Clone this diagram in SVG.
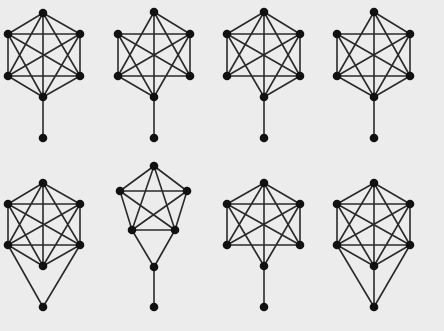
<svg xmlns="http://www.w3.org/2000/svg" width="444" height="331" viewBox="0 0 444 331">
<style>
.e{fill:none;stroke:#2a2a2a;stroke-width:1.6;stroke-linecap:round}
.n{fill:#111}
</style>
<rect width="444" height="331" fill="#ececec"/>
<g id="connectors">
<path id="e1" class="e" d="M43 13L8 34M43 13L80 34M43 13L8 76M43 13L80 76M43 13L43 97M8 34L80 34M8 34L8 76M8 34L80 76M8 34L43 97M80 34L8 76M80 34L80 76M80 34L43 97M8 76L80 76M8 76L43 97M80 76L43 97M43 97L43 138"/>
<path id="e2" class="e" d="M154 12L190 34M154 12L118 76M154 12L190 76M154 12L154 97M118 34L190 34M118 34L118 76M118 34L190 76M118 34L154 97M190 34L118 76M190 34L190 76M190 34L154 97M118 76L190 76M118 76L154 97M154 97L154 138"/>
<path id="e3" class="e" d="M264 12L227 34M264 12L300 34M264 12L227 76M264 12L300 76M264 12L264 97M227 34L300 34M227 34L227 76M227 34L300 76M227 34L264 97M300 34L227 76M300 34L300 76M300 34L264 97M227 76L300 76M300 76L264 97M264 97L264 138"/>
<path id="e4" class="e" d="M374 12L410 34M374 12L337 76M374 12L410 76M374 12L374 97M337 34L410 34M337 34L337 76M337 34L410 76M337 34L374 97M410 34L337 76M410 34L410 76M410 34L374 97M337 76L410 76M337 76L374 97M410 76L374 97M374 97L374 138"/>
<path id="e5" class="e" d="M43 183L8 204M43 183L80 204M43 183L8 245M43 183L80 245M43 183L43 266M8 204L80 204M8 204L8 245M8 204L80 245M8 204L43 266M80 204L8 245M80 204L80 245M80 204L43 266M8 245L80 245M8 245L43 266M80 245L43 266M8 245L43 307M80 245L43 307"/>
<path id="e6" class="e" d="M154 166L120 191M154 166L187 191M154 166L132 230M154 166L175 230M120 191L187 191M120 191L132 230M120 191L175 230M187 191L132 230M187 191L175 230M132 230L175 230M132 230L154 267M175 230L154 267M154 267L154 307"/>
<path id="e7" class="e" d="M264 183L227 204M264 183L300 204M264 183L227 245M264 183L300 245M264 183L264 266M227 204L300 204M227 204L227 245M227 204L300 245M227 204L264 266M300 204L227 245M300 204L300 245M300 204L264 266M227 245L300 245M264 266L264 307"/>
<path id="e8" class="e" d="M374 183L337 204M374 183L410 204M374 183L337 245M374 183L410 245M374 183L374 266M337 204L410 204M337 204L337 245M337 204L410 245M337 204L374 266M410 204L337 245M410 204L410 245M410 204L374 266M337 245L410 245M337 245L374 266M410 245L374 266M374 266L374 307M337 245L374 307M410 245L374 307"/>
</g>
<g id="graph1" class="n">
<circle id="g1-t" cx="43" cy="13" r="4.3"/><circle id="g1-ul" cx="8" cy="34" r="4.3"/><circle id="g1-ur" cx="80" cy="34" r="4.3"/><circle id="g1-ll" cx="8" cy="76" r="4.3"/><circle id="g1-lr" cx="80" cy="76" r="4.3"/><circle id="g1-b" cx="43" cy="97" r="4.3"/><circle id="g1-p" cx="43" cy="138" r="4.3"/>
</g>
<g id="graph2" class="n">
<circle id="g2-t" cx="154" cy="12" r="4.3"/><circle id="g2-ul" cx="118" cy="34" r="4.3"/><circle id="g2-ur" cx="190" cy="34" r="4.3"/><circle id="g2-ll" cx="118" cy="76" r="4.3"/><circle id="g2-lr" cx="190" cy="76" r="4.3"/><circle id="g2-b" cx="154" cy="97" r="4.3"/><circle id="g2-p" cx="154" cy="138" r="4.3"/>
</g>
<g id="graph3" class="n">
<circle id="g3-t" cx="264" cy="12" r="4.3"/><circle id="g3-ul" cx="227" cy="34" r="4.3"/><circle id="g3-ur" cx="300" cy="34" r="4.3"/><circle id="g3-ll" cx="227" cy="76" r="4.3"/><circle id="g3-lr" cx="300" cy="76" r="4.3"/><circle id="g3-b" cx="264" cy="97" r="4.3"/><circle id="g3-p" cx="264" cy="138" r="4.3"/>
</g>
<g id="graph4" class="n">
<circle id="g4-t" cx="374" cy="12" r="4.3"/><circle id="g4-ul" cx="337" cy="34" r="4.3"/><circle id="g4-ur" cx="410" cy="34" r="4.3"/><circle id="g4-ll" cx="337" cy="76" r="4.3"/><circle id="g4-lr" cx="410" cy="76" r="4.3"/><circle id="g4-b" cx="374" cy="97" r="4.3"/><circle id="g4-p" cx="374" cy="138" r="4.3"/>
</g>
<g id="graph5" class="n">
<circle id="g5-t" cx="43" cy="183" r="4.3"/><circle id="g5-ul" cx="8" cy="204" r="4.3"/><circle id="g5-ur" cx="80" cy="204" r="4.3"/><circle id="g5-ll" cx="8" cy="245" r="4.3"/><circle id="g5-lr" cx="80" cy="245" r="4.3"/><circle id="g5-b" cx="43" cy="266" r="4.3"/><circle id="g5-p" cx="43" cy="307" r="4.3"/>
</g>
<g id="graph6" class="n">
<circle id="g6-t" cx="154" cy="166" r="4.3"/><circle id="g6-ul" cx="120" cy="191" r="4.3"/><circle id="g6-ur" cx="187" cy="191" r="4.3"/><circle id="g6-ll" cx="132" cy="230" r="4.3"/><circle id="g6-lr" cx="175" cy="230" r="4.3"/><circle id="g6-b" cx="154" cy="267" r="4.3"/><circle id="g6-p" cx="154" cy="307" r="4.3"/>
</g>
<g id="graph7" class="n">
<circle id="g7-t" cx="264" cy="183" r="4.3"/><circle id="g7-ul" cx="227" cy="204" r="4.3"/><circle id="g7-ur" cx="300" cy="204" r="4.3"/><circle id="g7-ll" cx="227" cy="245" r="4.3"/><circle id="g7-lr" cx="300" cy="245" r="4.3"/><circle id="g7-b" cx="264" cy="266" r="4.3"/><circle id="g7-p" cx="264" cy="307" r="4.3"/>
</g>
<g id="graph8" class="n">
<circle id="g8-t" cx="374" cy="183" r="4.3"/><circle id="g8-ul" cx="337" cy="204" r="4.3"/><circle id="g8-ur" cx="410" cy="204" r="4.3"/><circle id="g8-ll" cx="337" cy="245" r="4.3"/><circle id="g8-lr" cx="410" cy="245" r="4.3"/><circle id="g8-b" cx="374" cy="266" r="4.3"/><circle id="g8-p" cx="374" cy="307" r="4.3"/>
</g>
</svg>
